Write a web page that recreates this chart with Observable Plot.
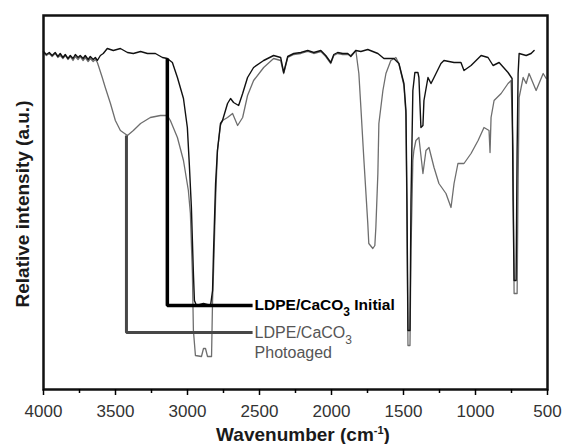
<!DOCTYPE html>
<html><head><meta charset="utf-8">
<script src="https://cdn.jsdelivr.net/npm/d3@7"></script>
<script src="https://cdn.jsdelivr.net/npm/@observablehq/plot@0.6"></script>
<style>
html,body{margin:0;padding:0;background:#fff;}
</style></head><body>
<div id="chart"></div>
<script>
// [wavenumber (cm-1), relative intensity (a.u.)]
const initialSpectrum = [
[4000,337],[3980,334],[3960,336],[3940,333],[3919,336],[3900,332],[3884,335],[3865,331],[3849,334],[3830,330],
[3814,333],[3795,330],[3779,334],[3760,331],[3745,333],[3725,330],[3710,333],[3690,329],[3675,332],[3655,329],
[3640,331],[3626,328],[3605,333],[3585,335],[3557,340],[3515,338],[3466,340],[3417,336],[3376,335],[3326,337],
[3278,335],[3223,335],[3174,331],[3140,330],[3105,326],[3070,311],[3028,290],[3001,261],[2987,223],[2973,181],
[2966,148],[2959,115],[2952,88],[2938,83],[2889,85],[2840,83],[2826,98],[2819,138],[2805,205],[2792,238],
[2771,265],[2757,268],[2722,285],[2701,290],[2680,286],[2645,283],[2617,295],[2583,311],[2541,321],[2471,328],
[2402,333],[2353,331],[2332,316],[2304,332],[2262,335],[2213,336],[2165,338],[2123,336],[2074,338],[2040,333],
[2005,326],[1984,334],[1957,336],[1922,335],[1887,335],[1866,332],[1831,338],[1796,337],[1748,339],[1713,337],
[1678,335],[1636,330],[1567,330],[1532,325],[1497,305],[1483,278],[1476,188],[1469,58],[1455,58],[1448,188],
[1435,298],[1421,316],[1400,316],[1393,311],[1379,261],[1365,263],[1358,288],[1330,311],[1309,305],[1288,311],
[1240,325],[1219,328],[1149,326],[1101,326],[1080,318],[1031,323],[961,333],[913,331],[878,323],[836,326],
[774,316],[746,310],[739,188],[732,108],[718,108],[711,238],[704,315],[697,335],[648,333],[614,335],[593,338]
];
const photoagedSpectrum = [
[4000,336],[3980,333],[3960,335],[3940,332],[3919,335],[3900,331],[3884,333],[3865,330],[3849,333],[3830,329],
[3814,332],[3795,328],[3779,332],[3760,329],[3745,332],[3725,328],[3710,331],[3690,327],[3675,330],[3655,327],
[3640,329],[3626,326],[3619,323],[3592,311],[3571,301],[3535,285],[3501,268],[3466,258],[3417,253],[3376,258],
[3326,265],[3258,271],[3188,273],[3140,273],[3119,268],[3070,251],[3028,228],[2994,198],[2980,175],[2966,115],
[2959,58],[2945,33],[2903,32],[2889,40],[2875,40],[2861,32],[2833,32],[2826,88],[2819,118],[2805,188],
[2792,238],[2771,263],[2757,268],[2722,271],[2687,275],[2652,263],[2617,271],[2583,293],[2541,308],[2471,321],
[2402,330],[2353,328],[2332,315],[2304,331],[2262,334],[2213,335],[2165,337],[2123,335],[2074,337],[2040,332],
[2005,325],[1984,333],[1957,335],[1922,334],[1887,334],[1866,333],[1831,338],[1810,315],[1796,281],[1776,231],
[1748,165],[1741,145],[1713,140],[1699,143],[1692,161],[1678,215],[1671,265],[1643,298],[1622,315],[1588,328],
[1553,331],[1532,325],[1497,303],[1483,273],[1476,168],[1469,43],[1455,43],[1448,138],[1435,228],[1428,238],
[1414,248],[1393,251],[1365,215],[1344,238],[1323,241],[1288,221],[1254,205],[1205,195],[1170,181],[1149,205],
[1122,225],[1080,225],[1031,235],[982,248],[941,261],[906,258],[899,236],[892,271],[871,288],[822,295],
[774,305],[753,308],[739,238],[732,95],[711,95],[704,208],[697,291],[669,311],[648,305],[628,315],
[579,298],[530,315],[509,310]
];
// legend leader lines (wavenumber, intensity) and labels
const leaderInitial = [[3140,330],[3140,83],[2548,83]];
const leaderPhotoaged = [[3424,253],[3424,56],[2548,56]];
const labelsInitial = [{wn:2534, v:83, text:"LDPE/CaCO3 Initial"}];
const labelsPhotoaged = [{wn:2534, v:56, text:"LDPE/CaCO3"},{wn:2534, v:36, text:"Photoaged"}];
const majorTicks = [4000,3500,3000,2500,2000,1500,1000,500];
const minorTicks = [3750,3250,2750,2250,1750,1250,750];
const xTitle = "Wavenumber (cm";
const xTitleSup = "-1";
const yTitle = "Relative intensity (a.u.)";

const FONT = "'Liberation Sans', Arial, sans-serif";

const plot = Plot.plot({
  width: 564,
  height: 444,
  marginLeft: 43,
  marginRight: 17,
  marginTop: 15,
  marginBottom: 55,
  style: {fontFamily: FONT, background: "#fff", color: "#000"},
  x: {domain: [4000, 500]},
  y: {domain: [-1, 373], axis: null},
  marks: [
    Plot.line(photoagedSpectrum, {x: d => d[0], y: d => d[1], stroke: "#6e6e6e", strokeWidth: 1.3}),
    Plot.line(initialSpectrum, {x: d => d[0], y: d => d[1], stroke: "#111", strokeWidth: 1.4}),
    Plot.line(leaderPhotoaged, {x: d => d[0], y: d => d[1], stroke: "#474747", strokeWidth: 3, strokeLinejoin: "miter", strokeLinecap: "butt"}),
    Plot.line(leaderInitial, {x: d => d[0], y: d => d[1], stroke: "#000", strokeWidth: 3.5, strokeLinejoin: "miter", strokeLinecap: "butt"}),
    Plot.text(labelsInitial, {x: "wn", y: "v", text: "text", textAnchor: "start", fill: "#000", fontWeight: "bold", fontSize: 15.5}),
    Plot.text(labelsPhotoaged, {x: "wn", y: "v", text: "text", textAnchor: "start", fill: "#555", fontSize: 16}),
    Plot.frame({stroke: "#111", strokeWidth: 2.5}),
    Plot.axisX({ticks: majorTicks, tickSize: 6, tickPadding: 9, tickFormat: d => String(d), fontSize: 17, label: null, strokeWidth: 1.5}),
    Plot.axisX({ticks: minorTicks, tickSize: 4, tickFormat: () => "", label: null, strokeWidth: 1.5})
  ]
});

const svg = d3.select(plot);
// subscript 3 in CaCO3
svg.selectAll("text").each(function() {
  const full = this.textContent;
  const i = full.indexOf("CaCO3");
  if (i < 0) return;
  const before = full.slice(0, i + 4), after = full.slice(i + 5);
  const t = d3.select(this);
  t.text(null);
  t.append("tspan").text(before);
  t.append("tspan").attr("dy", 6).attr("font-size", 12).text("3");
  if (after) t.append("tspan").attr("dy", -6).text(after);
});
// tick label colour
svg.selectAll('g[aria-label="x-axis tick label"] text').attr("fill", "#333");

// axis titles
svg.append("text")
  .attr("transform", "translate(29,204) rotate(-90)")
  .attr("text-anchor", "middle")
  .attr("font-family", FONT)
  .attr("font-weight", "bold")
  .attr("font-size", 19)
  .attr("fill", "#1a1a1a")
  .text(yTitle);
const xt = svg.append("text")
  .attr("x", 303).attr("y", 441)
  .attr("text-anchor", "middle")
  .attr("font-family", FONT)
  .attr("font-weight", "bold")
  .attr("font-size", 19)
  .attr("fill", "#1a1a1a");
xt.append("tspan").text(xTitle);
xt.append("tspan").attr("dy", -7).attr("font-size", 11).text(xTitleSup);
xt.append("tspan").attr("dy", 7).text(")");

document.getElementById("chart").appendChild(plot);
</script>
</body></html>
